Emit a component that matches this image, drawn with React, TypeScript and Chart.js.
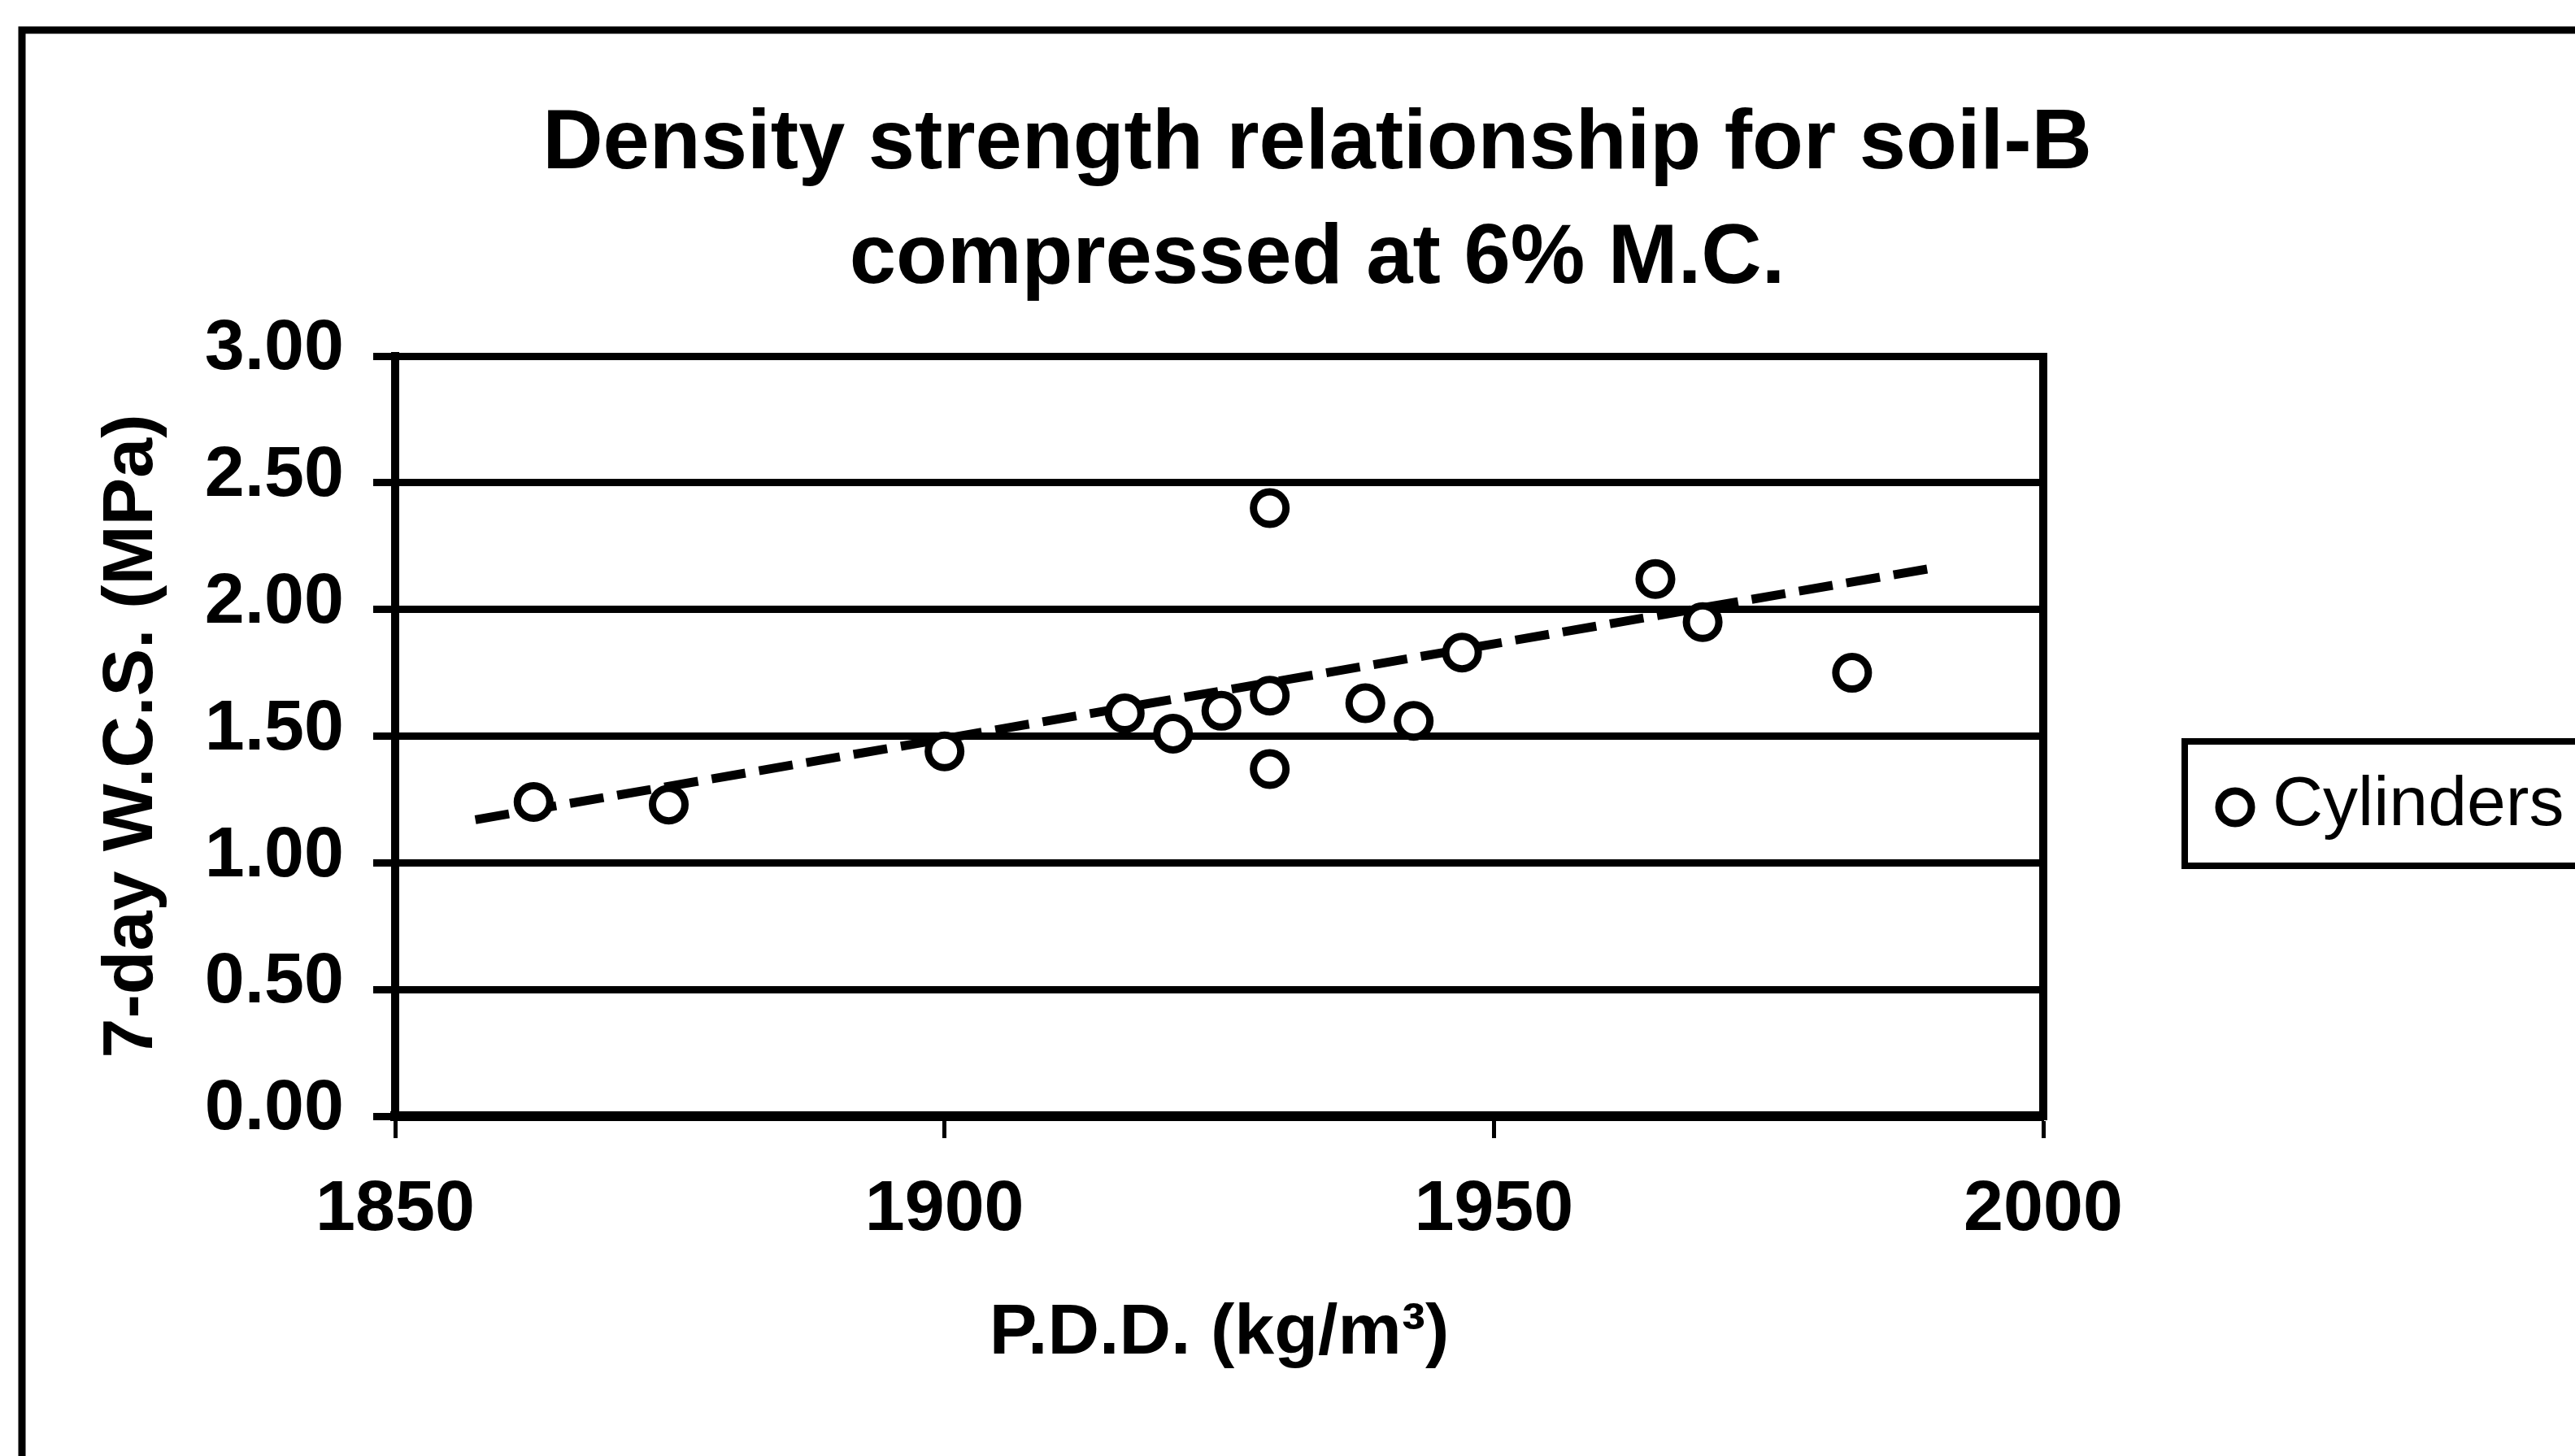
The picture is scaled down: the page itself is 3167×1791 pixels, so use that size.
import React, { useEffect, useRef } from "react";
import { Chart, registerables } from "chart.js";

Chart.register(...registerables);

const chartTitle = ["Density strength relationship for soil-B", "compressed at 6% M.C."];
const xAxisTitle = "P.D.D. (kg/m³)";
const yAxisTitle = "7-day W.C.S. (MPa)";
const seriesName = "Cylinders";

const pdd = [1862.6, 1874.9, 1900.0, 1916.4, 1920.8, 1925.2, 1929.6, 1929.6, 1929.6, 1938.3, 1942.7, 1947.1, 1964.7, 1969.0, 1982.6];
const wcs = [1.24, 1.23, 1.44, 1.59, 1.51, 1.6, 1.66, 2.4, 1.37, 1.63, 1.56, 1.83, 2.12, 1.95, 1.75];

const trendX = [1857.3, 1989.5];
const trendY = [1.17, 2.16];

const xTicks = [1850, 1900, 1950, 2000];
const yTicks = [0, 0.5, 1, 1.5, 2, 2.5, 3];

const W = 3167;
const H = 1791;
const FONT = "'Liberation Sans', Arial, sans-serif";

const decorPlugin = {
  id: "decor",
  beforeDraw(chart: any) {
    const ctx = chart.ctx;
    ctx.save();
    ctx.fillStyle = "#ffffff";
    ctx.fillRect(0, 0, chart.width, chart.height);
    ctx.strokeStyle = "#000";
    ctx.lineWidth = 9;
    ctx.beginPath();
    ctx.moveTo(27, H + 10);
    ctx.lineTo(27, 37);
    ctx.lineTo(W + 10, 37);
    ctx.stroke();
    ctx.restore();
  },
  afterDraw(chart: any) {
    const ctx = chart.ctx;
    const ca = chart.chartArea;
    ctx.save();
    // right border of plot area
    ctx.strokeStyle = "#000";
    ctx.lineWidth = 10;
    ctx.beginPath();
    ctx.moveTo(ca.right, ca.top - 4);
    ctx.lineTo(ca.right, ca.bottom + 5);
    ctx.stroke();

    // title
    ctx.fillStyle = "#000";
    ctx.font = `bold 103px ${FONT}`;
    ctx.textAlign = "center";
    ctx.textBaseline = "alphabetic";
    ctx.fillText(chartTitle[0], 1620, 207);
    ctx.fillText(chartTitle[1], 1620, 348);

    // legend
    ctx.lineWidth = 8;
    ctx.strokeRect(2687, 912, 700, 153);
    ctx.lineWidth = 9;
    ctx.beginPath();
    ctx.arc(2749, 993, 20, 0, Math.PI * 2);
    ctx.fillStyle = "#fff";
    ctx.fill();
    ctx.stroke();
    ctx.fillStyle = "#000";
    ctx.font = `86px ${FONT}`;
    ctx.textAlign = "left";
    ctx.fillText(seriesName, 2795, 1015);
    ctx.restore();
  },
};

export default function App() {
  const ref = useRef<HTMLCanvasElement | null>(null);

  useEffect(() => {
    if (!ref.current) return;
    const scatterData = pdd.map((x, i) => ({ x, y: wcs[i] }));
    const trendData = trendX.map((x, i) => ({ x, y: trendY[i] }));

    const chart = new Chart(ref.current, {
      type: "scatter",
      data: {
        datasets: [
          {
            type: "line",
            label: "Trend",
            data: trendData,
            borderColor: "#000",
            borderWidth: 11,
            borderDash: [42, 17],
            pointRadius: 0,
            fill: false,
            order: 2,
          } as any,
          {
            type: "scatter",
            label: seriesName,
            data: scatterData,
            pointStyle: "circle",
            pointRadius: 20,
            pointBorderWidth: 9,
            borderColor: "#000",
            backgroundColor: "#fff",
            order: 1,
          } as any,
        ],
      },
      options: {
        responsive: false,
        animation: false,
        devicePixelRatio: 1,
        layout: { padding: { left: 0, top: 438, right: W - 2513, bottom: 0 } },
        plugins: {
          legend: { display: false },
          title: { display: false },
          tooltip: { enabled: false },
        },
        scales: {
          x: {
            type: "linear",
            position: "bottom",
            min: 1850,
            max: 2000,
            afterFit(scale: any) {
              scale.height = H - 1373;
            },
            afterBuildTicks(scale: any) {
              scale.ticks = xTicks.map((v) => ({ value: v }));
            },
            grid: {
              display: true,
              drawOnChartArea: false,
              drawTicks: true,
              tickLength: 27,
              tickWidth: 5,
              tickColor: "#000",
              color: "#000",
            },
            border: { display: true, color: "#000", width: 12 },
            ticks: {
              color: "#000",
              padding: 36,
              maxRotation: 0,
              autoSkip: false,
              font: { family: FONT, size: 88, weight: "bold" },
              callback: (v: any) => String(v),
            },
            title: {
              display: true,
              text: xAxisTitle,
              color: "#000",
              font: { family: FONT, size: 88, weight: "bold" },
              padding: { top: 0, bottom: 97 },
            },
          },
          y: {
            type: "linear",
            position: "left",
            min: 0,
            max: 3,
            afterFit(scale: any) {
              scale.width = 486;
            },
            afterBuildTicks(scale: any) {
              scale.ticks = yTicks.map((v) => ({ value: v }));
            },
            grid: {
              display: true,
              drawOnChartArea: true,
              drawTicks: true,
              tickLength: 27,
              lineWidth: 9,
              color: "#000",
              tickColor: "#000",
            },
            border: { display: true, color: "#000", width: 10 },
            ticks: {
              color: "#000",
              padding: 36,
              labelOffset: -8,
              autoSkip: false,
              font: { family: FONT, size: 88, weight: "bold" },
              callback: (v: any) => Number(v).toFixed(2),
            },
            title: {
              display: true,
              text: yAxisTitle,
              color: "#000",
              font: { family: FONT, size: 88, weight: "bold" },
              padding: { top: 110, bottom: 0 },
            },
          },
        },
      },
      plugins: [decorPlugin],
    } as any);

    return () => chart.destroy();
  }, []);

  return (
    <div style={{ position: "fixed", left: 0, top: 0, width: W, height: H, background: "#fff" }}>
      <canvas ref={ref} width={W} height={H} style={{ display: "block", width: W, height: H }} />
    </div>
  );
}
